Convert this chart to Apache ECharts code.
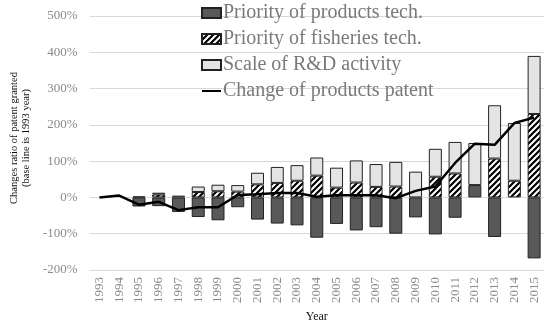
<!DOCTYPE html>
<html>
<head>
<meta charset="utf-8">
<script src="https://cdn.jsdelivr.net/npm/echarts@6/dist/echarts.min.js"></script>
<style>html,body{margin:0;padding:0;background:#fff}#c{width:550px;height:328px}</style>
</head>
<body>
<div id="c"></div>
<script>
const years = ['1993','1994','1995','1996','1997','1998','1999','2000','2001','2002','2003','2004','2005','2006','2007','2008','2009','2010','2011','2012','2013','2014','2015'];
const productsTech = [0,0,-25,-24,-40,-54,-63,-27,-61,-72,-77,-111,-73,-91,-82,-100,-55,-102,-56,34,-109,0,-168];
const fisheriesTech = [0,0,0,8,0,15,17,16,36,40,46,60,27,41,29,30,0,57,66,0,107,46,230];
const scaleRD = [0,0,3,5,5,15,18,18,32,44,43,50,55,61,63,68,71,77,87,116,147,159,160];
const productsPatent = [0,5,-20,-12,-35,-27,-27,7,9,12,12,2,6,6,6,-2,18,30,95,148,145,205,220];
const yTicks = {min:-200, max:500, interval:100};

const nz = a => a.map(v => v === 0 ? '-' : v);

// hatched pattern
const pc = document.createElement('canvas');
pc.width = 6; pc.height = 6;
const g = pc.getContext('2d');
g.fillStyle = '#fff'; g.fillRect(0,0,6,6);
g.strokeStyle = '#000'; g.lineWidth = 2.2;
g.beginPath();
g.moveTo(-1,7); g.lineTo(7,-1);
g.moveTo(-4,4); g.lineTo(4,-4);
g.moveTo(2,10); g.lineTo(10,2);
g.stroke();

const serif = 'Liberation Serif';
const chart = echarts.init(document.getElementById('c'), null, {renderer:'canvas'});
const border = {borderColor:'#222', borderWidth:1};
chart.setOption({
  animation:false,
  backgroundColor:'#fff',
  textStyle:{fontFamily:serif},
  grid:{left:81, right:6, top:16, bottom:55, containLabel:false},
  legend:{
    orient:'vertical', left:201, top:3, padding:0,
    itemWidth:19, itemHeight:10, itemGap:6,
    textStyle:{fontFamily:serif, fontSize:20, lineHeight:20, color:'#7a7a7a', padding:[0,0,0,-3]},
    data:[
      {name:'Priority of products tech.', icon:'rect'},
      {name:'Priority of fisheries tech.', icon:'rect'},
      {name:'Scale of R&D activity', icon:'rect'},
      {name:'Change of products patent', itemStyle:{color:'rgba(0,0,0,0)', borderWidth:0, opacity:0}}
    ]
  },
  xAxis:{
    type:'category', data:years,
    axisLine:{show:false, onZero:false}, axisTick:{show:false},
    axisLabel:{rotate:90, interval:0, color:'#8a8a8a', fontSize:13, fontFamily:serif, margin:7},
    name:'Year', nameLocation:'middle', nameGap:41,
    nameTextStyle:{color:'#111', fontSize:12, fontFamily:serif}
  },
  yAxis:{
    type:'value', min:yTicks.min, max:yTicks.max, interval:yTicks.interval,
    axisLine:{show:false}, axisTick:{show:false},
    splitLine:{lineStyle:{color:'#d9d9d9', width:1}},
    axisLabel:{formatter:'{value}%', color:'#8a8a8a', fontSize:13, fontFamily:serif, margin:12},
    name:'Changes ratio of patent granted\n(base line is 1993 year)',
    nameLocation:'middle', nameGap:50, nameRotate:90,
    nameTextStyle:{color:'#111', fontSize:10.5, lineHeight:12, fontFamily:serif, padding:[0,0,0,10]}
  },
  series:[
    {name:'Priority of products tech.', type:'bar', stack:'t', barWidth:13, data:nz(productsTech),
     itemStyle:Object.assign({color:'#595959'}, border)},
    {name:'Priority of fisheries tech.', type:'bar', stack:'t', barWidth:13, data:nz(fisheriesTech),
     itemStyle:Object.assign({color:{image:pc, repeat:'repeat'}}, border)},
    {name:'Scale of R&D activity', type:'bar', stack:'t', barWidth:13, data:nz(scaleRD),
     itemStyle:Object.assign({color:'#e4e4e4'}, border)},
    {name:'Change of products patent', type:'line', data:productsPatent, symbol:'none', z:10,
     lineStyle:{color:'#000', width:2.5}, itemStyle:{color:'#000'}}
  ]
});
</script>
</body>
</html>
